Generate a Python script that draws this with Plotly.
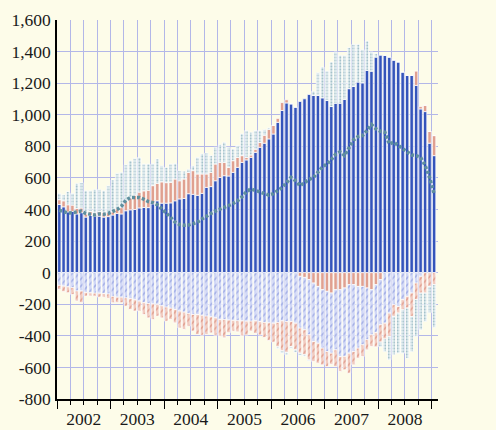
import pandas as pd
import plotly.graph_objects as go

months = pd.date_range("2002-01-01", "2009-01-01", freq="MS")

# Dark blue (always positive)
series_a = [432, 417, 385, 388, 372, 380, 352, 362, 358, 358, 352, 355,
            365, 375, 372, 392, 398, 400, 410, 413, 412, 436, 455, 440,
            440, 442, 455, 467, 470, 500, 496, 490, 502, 540, 545, 582,
            603, 614, 612, 635, 667, 698, 714, 730, 762, 794, 820, 847,
            878, 952, 1027, 1075, 1069, 1048, 1084, 1101, 1128, 1122, 1122, 1107,
            1090, 1052, 1073, 1073, 1097, 1165, 1179, 1207, 1202, 1281, 1276, 1365,
            1376, 1376, 1365, 1346, 1334, 1270, 1249, 1249, 1186, 1037, 1020, 820,
            741]
# Red / salmon (changes sign)
series_b = [30, 38, 45, 40, 35, 30, 20, 25, 20, 28, 30, 25,
            20, 30, 40, 60, 75, 90, 100, 105, 110, 115, 110, 135,
            130, 130, 138, 115, 123, 135, 150, 135, 123, 85, 90, 106,
            95, 84, 55, 74, 63, 43, 16, 15, 20, 30, 50, 60,
            55, 25, 50, 20, 0, 0, -23, -30, -44, -66, -87, -108,
            -118, -129, -108, -108, -97, -76, -76, -87, -87, -97, -108, -76,
            -44, 0, 0, 0, 0, 0, 0, 0, 90, 15, 40, 74,
            127]
# Light blue hatched (always negative)
series_d = [-80, -85, -90, -95, -116, -116, -125, -128, -130, -130, -132, -135,
            -150, -155, -155, -160, -165, -172, -180, -190, -195, -198, -200, -210,
            -218, -225, -233, -243, -250, -258, -265, -265, -270, -275, -280, -286,
            -296, -298, -300, -302, -305, -305, -307, -307, -305, -310, -315, -318,
            -320, -315, -305, -310, -309, -320, -328, -332, -350, -370, -360, -370,
            -382, -381, -381, -423, -433, -434, -424, -391, -370, -328, -286, -304,
            -286, -320, -256, -203, -214, -171, -150, -129, -66, -23, 0, 0,
            0]
# Salmon hatched (always negative)
series_e = [-26, -35, -37, -43, -64, -74, -23, -20, -20, -25, -23, -28,
            -40, -35, -35, -52, -68, -71, -63, -75, -91, -98, -75, -76,
            -89, -71, -85, -107, -110, -81, -105, -127, -126, -117, -101, -110,
            -106, -115, -80, -68, -70, -95, -88, -63, -80, -85, -95, -112,
            -120, -155, -190, -195, -159, -169, -159, -158, -159, -127, -127, -106,
            -95, -70, -106, -95, -85, -127, -84, -64, -74, -64, -74, -90,
            -110, -100, -148, -74, -42, -64, -74, -148, -105, -106, -129, -87,
            -76]
# Teal dotted (changes sign)
series_c = [40, 38, 84, 74, 158, 161, 147, 132, 149, 141, 137, 170,
            202, 224, 223, 232, 236, 234, 220, 170, 166, 139, 155, 102,
            97, 116, 97, 64, 50, 20, 30, 105, 127, 133, 106, 106,
            113, 128, 127, 74, 75, 138, 170, 144, 118, 76, 35, 10,
            0, -10, -15, -15, -12, -15, -15, -10, -5, 27, 144, 195,
            187, 282, 324, 303, 279, 260, 267, 239, 210, 186, 121, 22,
            -30, -80, -148, -243, -254, -275, -318, -223, -233, -233, -180, -167,
            -270]
# Net line
net_line = [395, 385, 378, 380, 385, 390, 375, 370, 365, 372, 370, 375,
            385, 400, 420, 460, 476, 478, 476, 465, 450, 444, 430, 404,
            380, 350, 320, 305, 300, 302, 310, 320, 340, 360, 375, 390,
            404, 415, 425, 438, 455, 480, 514, 530, 520, 508, 500, 491,
            500, 520, 540, 570, 603, 582, 551, 570, 590, 603, 640, 670,
            688, 715, 750, 765, 741, 794, 840, 862, 868, 900, 938, 911,
            895, 889, 815, 826, 805, 785, 762, 745, 741, 730, 680, 603,
            500]

y_ticks = [-800, -600, -400, -200, 0, 200, 400, 600, 800, 1000, 1200, 1400, 1600]
y_text = [f"{v:,}" for v in y_ticks]

BG = "#fdfce9"
GRID = "#b3b7e8"
FONT = dict(family="Liberation Serif, DejaVu Serif, serif", size=17.5, color="#1a1a1a")
BAR_W = 23 * 86400000
EDGE = dict(color="rgba(255,255,255,0.9)", width=0.8)

fig = go.Figure()


def add_bar(vals, color, pattern=None):
    marker = dict(color=color, line=EDGE)
    if pattern:
        marker["pattern"] = pattern
    fig.add_trace(go.Bar(x=months, y=vals, width=BAR_W, marker=marker,
                         xperiod="M1", xperiodalignment="middle",
                         showlegend=False, hoverinfo="skip"))


add_bar(series_a, "#3454bb")
add_bar(series_b, "#e0a090")
add_bar(series_d, "#cdd4f4", dict(shape="/", fgcolor="#7585d4", bgcolor="#d0d7f6", size=5, solidity=0.3))
add_bar(series_e, "#efc4b8", dict(shape="/", fgcolor="#d27460", bgcolor="#f1cbc0", size=5, solidity=0.3))
add_bar(series_c, "#e0eaee", dict(shape=".", fgcolor="#6597a6", bgcolor="#e2ecef", size=3, solidity=0.4))

fig.add_trace(go.Scatter(x=months, y=net_line, mode="lines",
                         xperiod="M1", xperiodalignment="middle",
                         line=dict(color="#5f8f9e", width=3.5, dash="3px,2px"),
                         showlegend=False, hoverinfo="skip"))

fig.update_layout(
    width=496, height=430, autosize=False,
    margin=dict(l=57, r=58, t=20, b=31, pad=0),
    paper_bgcolor=BG, plot_bgcolor=BG,
    barmode="relative",
    font=FONT,
    xaxis=dict(type="date", range=["2002-01-01", "2009-02-12"],
               tick0="2002-01-01", dtick="M12", tickformat="%Y",
               ticklabelmode="period", automargin=False, ticklabelstandoff=-5,
               showgrid=True, gridcolor=GRID, gridwidth=1.3,
               ticks="outside", ticklen=8, tickwidth=1.3, tickcolor="black",
               showline=True, linecolor="black", linewidth=1.5,
               tickfont=FONT, zeroline=False,
               minor=dict(tick0="2002-01-01", dtick="M3", showgrid=True,
                          gridcolor=GRID, gridwidth=1.3,
                          ticks="outside", ticklen=4, tickwidth=1.3, tickcolor="black")),
    yaxis=dict(range=[-800, 1600], tickvals=y_ticks, ticktext=y_text,
               showgrid=True, gridcolor=GRID, gridwidth=1.3, zeroline=False,
               showline=True, linecolor="black", linewidth=1.5, automargin=False,
               ticks="", ticklabelstandoff=1, tickfont=FONT),
    yaxis2=dict(range=[-800, 1600], tickvals=y_ticks, ticktext=y_text,
                overlaying="y", side="right", showgrid=False, zeroline=False,
                showline=True, linecolor="black", linewidth=1.5, automargin=False,
                ticks="", ticklabelstandoff=14, tickfont=FONT),
)

fig.write_html("out.html", config={"displayModeBar": False},
               post_script="document.body.style.margin='0';document.body.style.background='#fdfce9';")
